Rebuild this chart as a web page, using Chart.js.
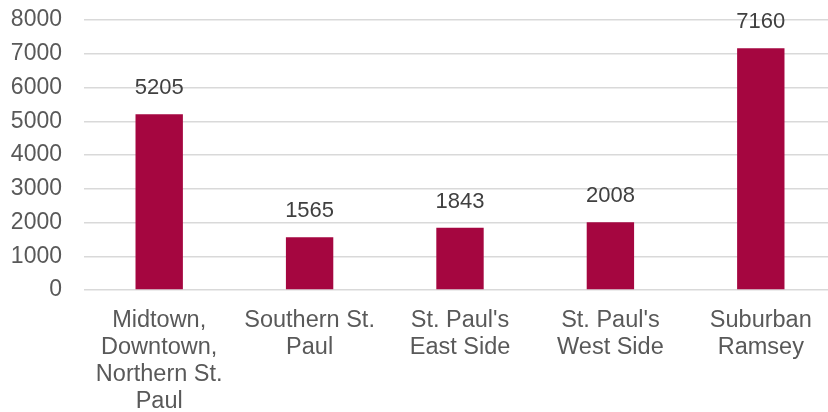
<!DOCTYPE html>
<html>
<head>
<meta charset="utf-8">
<script src="https://cdn.jsdelivr.net/npm/chart.js@4"></script>
<style>
    html, body { margin: 0; padding: 0; background: #fff; overflow: hidden; }
    #wrap { width: 836px; height: 412px; position: relative; }
</style>
</head>
<body>
<div id="wrap"><canvas id="chart"></canvas></div>
<script>
const categories = [
    ['Midtown,', 'Downtown,', 'Northern St.', 'Paul'],
    ['Southern St.', 'Paul'],
    ["St. Paul's", 'East Side'],
    ["St. Paul's", 'West Side'],
    ['Suburban', 'Ramsey']
];
const values = [5205, 1565, 1843, 2008, 7160];
const yTicks = [0, 1000, 2000, 3000, 4000, 5000, 6000, 7000, 8000];

const fontFamily = "'Liberation Sans', Arial, sans-serif";
const textColor = '#595959';

const barLabels = {
    id: 'barLabels',
    afterDatasetsDraw: function (chart) {
        const ctx = chart.ctx;
        const meta = chart.getDatasetMeta(0);
        ctx.save();
        ctx.font = '22px ' + fontFamily;
        ctx.fillStyle = '#404040';
        ctx.textAlign = 'center';
        ctx.textBaseline = 'middle';
        meta.data.forEach(function (bar, i) {
            ctx.fillText(String(values[i]), bar.x, bar.y - 26);
        });
        ctx.restore();
    }
};

new Chart(document.getElementById('chart'), {
    type: 'bar',
    data: {
        labels: categories,
        datasets: [{
            data: values,
            backgroundColor: '#A50640',
            categoryPercentage: 1,
            barPercentage: 0.315
        }]
    },
    options: {
        responsive: true,
        maintainAspectRatio: false,
        animation: false,
        layout: { padding: { top: 20, right: 0, left: 0, bottom: 0 } },
        plugins: {
            legend: { display: false },
            tooltip: { enabled: false }
        },
        scales: {
            x: {
                grid: { display: false },
                border: { display: false },
                ticks: {
                    color: textColor,
                    font: { family: fontFamily, size: 23.5, lineHeight: 1.15 },
                    padding: 9,
                    maxRotation: 0,
                    autoSkip: false
                },
                afterFit: function (axis) {
                    axis.height = 122;
                    axis.paddingLeft = 0;
                    axis.paddingRight = 0;
                }
            },
            y: {
                min: 0,
                max: 8000,
                afterBuildTicks: function (axis) {
                    axis.ticks = yTicks.map(function (v) { return { value: v }; });
                },
                grid: { color: '#d9d9d9', lineWidth: 1.5, drawTicks: false },
                border: { display: false },
                ticks: {
                    color: textColor,
                    font: { family: fontFamily, size: 23 },
                    padding: 22,
                    callback: function (value) { return String(value); }
                },
                afterFit: function (axis) {
                    axis.width = 84;
                    axis.paddingTop = 0;
                    axis.paddingBottom = 0;
                }
            }
        }
    },
    plugins: [barLabels]
});
</script>
</body>
</html>
